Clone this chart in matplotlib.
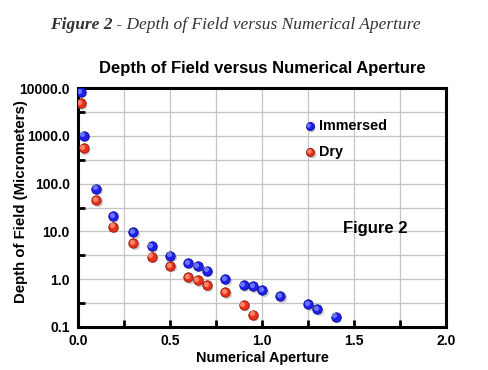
import matplotlib
matplotlib.use("Agg")
import matplotlib.pyplot as plt
from matplotlib.ticker import FixedLocator, NullFormatter
import numpy as np

# Data
immersed_na = [0.015, 0.03, 0.10, 0.19, 0.30, 0.40, 0.50, 0.60, 0.65, 0.70, 0.80, 0.90, 0.95, 1.00, 1.10, 1.25, 1.30, 1.40]
immersed_dof = [8300, 1000, 78, 20.5, 9.6, 4.9, 3.1, 2.2, 1.9, 1.5, 1.0, 0.75, 0.72, 0.59, 0.445, 0.30, 0.235, 0.164]
dry_na = [0.015, 0.03, 0.10, 0.19, 0.30, 0.40, 0.50, 0.60, 0.65, 0.70, 0.80, 0.90, 0.95]
dry_dof = [4800, 550, 45, 12.5, 5.7, 2.95, 1.9, 1.1, 0.96, 0.74, 0.53, 0.29, 0.18]
y_ticks = [0.1, 1, 10, 100, 1000, 10000]
y_tick_labels = ["0.1", "1.0", "10.0", "100.0", "1000.0", "10000.0"]
x_ticks = [0.0, 0.5, 1.0, 1.5, 2.0]
x_tick_labels = ["0.0", "0.5", "1.0", "1.5", "2.0"]

SANS = "Liberation Sans"
fig = plt.figure(figsize=(4.88, 3.70), dpi=100)
ax = fig.add_axes([78/488, 1-327/370, (446-78)/488, (327-88)/370])

ax.set_yscale("log")
ax.set_xlim(0, 2)
ax.set_ylim(0.1, 10000)

minor_y = [np.sqrt(10) * v for v in y_ticks[:-1]]
ax.yaxis.set_major_locator(FixedLocator(y_ticks))
ax.yaxis.set_minor_locator(FixedLocator(minor_y))
ax.yaxis.set_minor_formatter(NullFormatter())
ax.set_yticklabels(y_tick_labels)
ax.xaxis.set_major_locator(FixedLocator(x_ticks))
ax.xaxis.set_minor_locator(FixedLocator([0.25, 0.75, 1.25, 1.75]))
ax.set_xticklabels(x_tick_labels)
ax.grid(True, which="both", color="#c4c4c4", linewidth=0.9, zorder=0)
ax.set_axisbelow(True)

ax.tick_params(which="both", direction="in", width=2, length=5, color="black")
ax.tick_params(axis="both", which="major", labelsize=10)
ax.tick_params(axis="y", which="major", length=0, pad=6)
ax.tick_params(axis="x", which="major", length=5, pad=5)
for lab in ax.get_xticklabels() + ax.get_yticklabels():
    lab.set_fontfamily(SANS)
    lab.set_fontweight("bold")

for sp in ax.spines.values():
    sp.set_linewidth(2.2)
    sp.set_color("black")


def sphere(x, y, base, light, dark, s=46, z=3):
    ax.scatter(x, y, s=s, color="#9a9a9a", alpha=0.45, linewidths=0,
               transform=ax.transData + matplotlib.transforms.ScaledTranslation(1.5/100, -1.5/100, fig.dpi_scale_trans), zorder=z)
    ax.scatter(x, y, s=s, color=base, edgecolors=dark, linewidths=0.6, zorder=z+1)
    ax.scatter(x, y, s=s*0.3, color=light, linewidths=0, alpha=0.8,
               transform=ax.transData + matplotlib.transforms.ScaledTranslation(-1.3/100, 1.3/100, fig.dpi_scale_trans), zorder=z+2)


sphere(immersed_na, immersed_dof, "#1f1ff0", "#7a8cff", "#0a0a90")
sphere(dry_na, dry_dof, "#e8321c", "#ff9a80", "#901505")


def to_data(px, py):
    return ax.transData.inverted().transform(
        fig.transFigure.transform((px/488, 1-py/370)))

lx, ly = to_data(309.5, 126)
sphere([lx], [ly], "#1f1ff0", "#7a8cff", "#0a0a90", s=34, z=6)
ax.text(*to_data(319, 126), "Immersed", fontfamily=SANS, fontweight="bold",
        fontsize=10.4, va="center", ha="left", zorder=10)
lx, ly = to_data(310, 152)
sphere([lx], [ly], "#e8321c", "#ff9a80", "#901505", s=34, z=6)
ax.text(*to_data(319, 152), "Dry", fontfamily=SANS, fontweight="bold",
        fontsize=10.4, va="center", ha="left", zorder=10)

ax.text(*to_data(375, 229), "Figure 2", fontfamily=SANS, fontweight="bold",
        fontsize=12, va="center", ha="center", zorder=10)

ax.set_xlabel("Numerical Aperture", fontfamily=SANS, fontweight="bold",
              fontsize=10.4, labelpad=2)
ax.set_ylabel("Depth of Field (Micrometers)", fontfamily=SANS, fontweight="bold",
              fontsize=10.8, va="center", ha="center")
ax.yaxis.set_label_coords(21/488, 1-202/370, transform=fig.transFigure)

fig.text(262/488, 1-68/370, "Depth of Field versus Numerical Aperture",
         fontfamily=SANS, fontweight="bold", fontsize=12, ha="center", va="center")

t1 = fig.text(50/488, 1-25/370, "Figure 2", fontfamily="Liberation Serif",
              fontstyle="italic", fontweight="bold", fontsize=12.5, ha="left",
              va="center", color="#333333")
fig.canvas.draw()
bb = t1.get_window_extent(renderer=fig.canvas.get_renderer())
fig.text(bb.x1/fig.bbox.width, 1-25/370, " - Depth of Field versus Numerical Aperture",
         fontfamily="Liberation Serif", fontstyle="italic", fontsize=12.5,
         ha="left", va="center", color="#333333")

fig.savefig("out.png", dpi=100)
